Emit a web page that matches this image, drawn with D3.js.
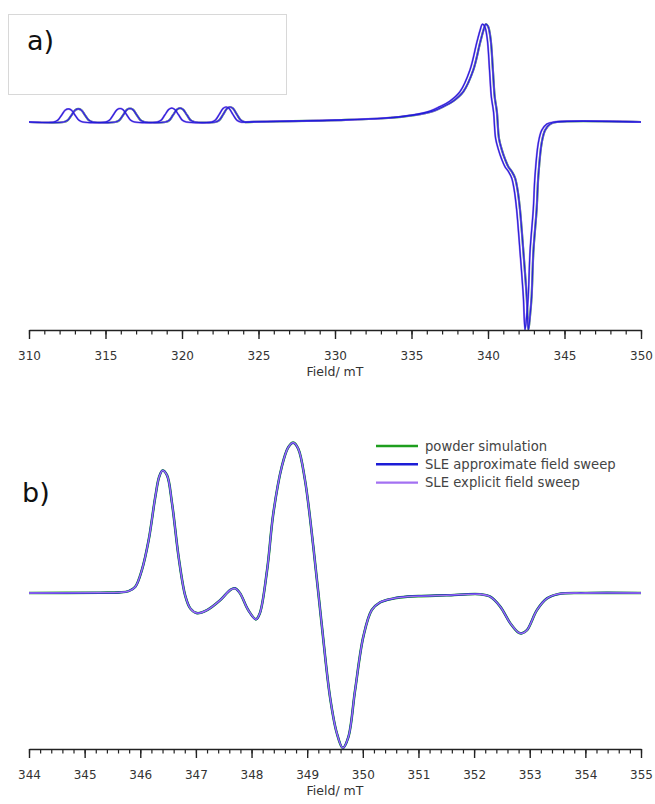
<!DOCTYPE html>
<html>
<head>
<meta charset="utf-8">
<script src="https://cdn.jsdelivr.net/npm/d3@7"></script>
<style>
  html, body { margin: 0; padding: 0; background: #fff; }
  svg { display: block; }
  text { font-family: "DejaVu Sans", "Liberation Sans", Arial, sans-serif; }
</style>
</head>
<body>
<svg id="chart" width="655" height="804"></svg>
<script>
// ---------- Panel a data (field in mT, normalised intensity) ----------
const aFieldLow = [310, 311.62, 311.87, 312.12, 312.37, 312.57, 312.77, 313.02, 313.27, 313.52,
  315.0, 315.25, 315.5, 315.75, 315.95, 316.15, 316.4, 316.65, 316.9,
  318.38, 318.63, 318.88, 319.13, 319.33, 319.53, 319.78, 320.03, 320.28,
  321.93, 322.18, 322.43, 322.68, 322.88, 323.08, 323.33, 323.58, 323.83,
  324.5, 327, 330, 333, 335, 336.2, 336.86, 337.5, 338.17, 338.82, 339.26, 339.48, 339.63, 339.78,
  339.95, 340.1, 340.22, 340.36, 340.5, 340.69, 340.9, 341.11, 341.35, 341.55, 341.72, 341.87,
  342.09, 342.31, 342.42, 342.53, 342.63, 342.75, 342.96, 343.07, 343.29, 343.51, 343.84, 344.3, 350];
const aIntLow = [0, 0, 0.008, 0.032, 0.057, 0.063, 0.057, 0.032, 0.008, 0,
  0, 0.008, 0.033, 0.059, 0.065, 0.059, 0.033, 0.008, 0,
  0, 0.008, 0.034, 0.060, 0.067, 0.060, 0.034, 0.008, 0,
  0, 0.009, 0.036, 0.065, 0.072, 0.065, 0.036, 0.009, 0,
  0.001, 0.004, 0.009, 0.018, 0.033, 0.052, 0.074, 0.100, 0.146, 0.25, 0.38, 0.44, 0.47, 0.46,
  0.40, 0.25, 0.12, 0.05, -0.08, -0.135, -0.18, -0.215, -0.24, -0.27, -0.33, -0.42,
  -0.62, -0.84, -1.0, -0.93, -0.84, -0.62, -0.42, -0.26, -0.10, -0.04, -0.01, 0, 0];

const aFieldHigh = [310, 312.27, 312.52, 312.77, 313.02, 313.22, 313.42, 313.67, 313.92, 314.17,
  315.65, 315.9, 316.15, 316.4, 316.6, 316.8, 317.05, 317.3, 317.55,
  318.92, 319.17, 319.42, 319.67, 319.87, 320.07, 320.32, 320.57, 320.82,
  322.19, 322.44, 322.69, 322.94, 323.14, 323.34, 323.59, 323.84, 324.09,
  324.7, 327.2, 330.2, 333.2, 335.2, 336.4, 337.08, 337.72, 338.39, 339.04, 339.48, 339.7, 339.85, 340.0,
  340.17, 340.32, 340.44, 340.58, 340.72, 340.91, 341.12, 341.33, 341.57, 341.77, 341.94, 342.09,
  342.31, 342.53, 342.64, 342.75, 342.85, 342.97, 343.18, 343.29, 343.51, 343.73, 344.06, 344.5, 350];
const aIntHigh = [0, 0, 0.008, 0.032, 0.057, 0.063, 0.057, 0.032, 0.008, 0,
  0, 0.008, 0.033, 0.059, 0.065, 0.059, 0.033, 0.008, 0,
  0, 0.008, 0.034, 0.060, 0.067, 0.060, 0.034, 0.008, 0,
  0, 0.009, 0.036, 0.065, 0.072, 0.065, 0.036, 0.009, 0,
  0.001, 0.004, 0.009, 0.018, 0.033, 0.052, 0.074, 0.100, 0.146, 0.25, 0.38, 0.44, 0.47, 0.46,
  0.40, 0.25, 0.12, 0.05, -0.08, -0.135, -0.18, -0.215, -0.24, -0.27, -0.33, -0.42,
  -0.62, -0.84, -1.0, -0.93, -0.84, -0.62, -0.42, -0.26, -0.10, -0.04, -0.01, 0, 0];

// ---------- Panel b data ----------
const bField = [344, 345.28, 345.62, 345.79, 345.91, 346.03, 346.15, 346.27, 346.34, 346.40, 346.48, 346.57,
  346.69, 346.81, 346.90, 347.02, 347.20, 347.44, 347.62, 347.70, 347.79, 347.94, 348.08, 348.15,
  348.28, 348.39, 348.54, 348.66, 348.75, 348.84, 348.96, 349.11, 349.26, 349.41, 349.53, 349.64,
  349.74, 349.86, 350.01, 350.16, 350.31, 350.55, 350.67, 351.0, 351.5, 352.11, 352.29, 352.47,
  352.65, 352.80, 352.86, 352.95, 353.13, 353.31, 353.52, 354.0, 355];
const bPowder = [0, 0.002, 0.004, 0.012, 0.04, 0.15, 0.34, 0.62, 0.75, 0.79, 0.76, 0.58,
  0.23, -0.02, -0.10, -0.13, -0.11, -0.045, 0.02, 0.03, 0.0, -0.11, -0.17, -0.13,
  0.15, 0.51, 0.81, 0.94, 0.97, 0.93, 0.73, 0.30, -0.20, -0.67, -0.90, -1.0,
  -0.93, -0.63, -0.28, -0.11, -0.06, -0.035, -0.028, -0.02, -0.015, -0.008, -0.024, -0.088,
  -0.195, -0.256, -0.26, -0.24, -0.11, -0.035, -0.006, 0, 0];
const bApprox = bPowder;   // visually identical to the powder simulation
const bExplicit = bPowder; // visually identical to the powder simulation

const aTicksMajor = [310, 315, 320, 325, 330, 335, 340, 345, 350];
const bTicksMajor = [344, 345, 346, 347, 348, 349, 350, 351, 352, 353, 354, 355];
const legendLabels = ["powder simulation", "SLE approximate field sweep", "SLE explicit field sweep"];
const colors = { powder: "#1e9e1e", approx: "#1c1cd6", explicit: "#a371f2" };

const svg = d3.select("#chart");

function zip(f, v) { return f.map((x, i) => [x, v[i]]); }

function drawAxis(g, x, y0, majors, minorStep) {
  const [d0, d1] = x.domain();
  const minors = d3.range(d0, d1 + minorStep / 2, minorStep).map(v => +v.toFixed(3));
  g.append("g").attr("transform", `translate(0,${y0})`)
    .call(d3.axisBottom(x).tickValues(minors).tickSize(4.5).tickFormat("").tickSizeOuter(0))
    .call(s => s.selectAll("line").attr("stroke", "#222").attr("stroke-width", 1.2))
    .call(s => s.select(".domain").attr("stroke", "#222").attr("stroke-width", 1.4));
  g.append("g").attr("transform", `translate(0,${y0})`)
    .call(d3.axisBottom(x).tickValues(majors).tickSize(9).tickPadding(12).tickFormat(d3.format("d")).tickSizeOuter(0))
    .call(s => s.select(".domain").remove())
    .call(s => s.selectAll("line").attr("stroke", "#222").attr("stroke-width", 1.4))
    .call(s => s.selectAll("text").attr("font-size", 12).attr("fill", "#333")
      .attr("font-family", "'DejaVu Sans', sans-serif"));
  g.append("text").attr("x", 335).attr("y", y0 + 46).attr("text-anchor", "middle")
    .attr("font-size", 12.5).attr("fill", "#333").text("Field/ mT");
}

// ---------- Panel a ----------
const xa = d3.scaleLinear().domain([310, 350]).range([29, 641]);
const ya = d3.scaleLinear().domain([-1, 0.5]).range([330, 18]);
const ga = svg.append("g");
const lineA = d3.line().x(d => xa(d[0])).y(d => ya(d[1])).curve(d3.curveCatmullRom.alpha(0.5));

ga.append("rect").attr("x", 8.5).attr("y", 14.5).attr("width", 278).attr("height", 80)
  .attr("fill", "#fff").attr("stroke", "#d8d8d8").attr("stroke-width", 1);
ga.append("text").attr("x", 27).attr("y", 50).attr("font-size", 27).attr("fill", "#111")
  .attr("font-family", "'Liberation Sans', Arial, sans-serif").text("a)");

const aSeries = [
  { d: zip(aFieldHigh, aIntHigh), c: colors.powder, w: 2.2 },
  { d: zip(aFieldHigh, aIntHigh), c: colors.explicit, w: 2.0 },
  { d: zip(aFieldLow, aIntLow), c: colors.explicit, w: 2.0 },
  { d: zip(aFieldHigh, aIntHigh), c: colors.approx, w: 1.2 },
  { d: zip(aFieldLow, aIntLow), c: colors.approx, w: 1.2 }
];
aSeries.forEach(s => ga.append("path").datum(s.d).attr("d", lineA)
  .attr("fill", "none").attr("stroke", s.c).attr("stroke-width", s.w).attr("stroke-opacity", 0.9));
drawAxis(ga, xa, 330, aTicksMajor, 1);

// ---------- Panel b ----------
const xb = d3.scaleLinear().domain([344, 355]).range([29, 641]);
const yb = d3.scaleLinear().domain([-1, 1]).range([748, 438]);
const gb = svg.append("g");
const lineB = d3.line().x(d => xb(d[0])).y(d => yb(d[1])).curve(d3.curveCatmullRom.alpha(0.5));

const bSeries = [
  { d: zip(bField, bPowder), c: colors.powder, w: 2.6 },
  { d: zip(bField, bApprox), c: colors.approx, w: 2.0 },
  { d: zip(bField, bExplicit), c: colors.explicit, w: 1.3 }
];
bSeries.forEach(s => gb.append("path").datum(s.d).attr("d", lineB)
  .attr("fill", "none").attr("stroke", s.c).attr("stroke-width", s.w));
drawAxis(gb, xb, 749, bTicksMajor, 0.2);

gb.append("text").attr("x", 22).attr("y", 502).attr("font-size", 27).attr("fill", "#111")
  .attr("font-family", "'Liberation Sans', Arial, sans-serif").text("b)");

// legend
const legColors = [colors.powder, colors.approx, colors.explicit];
legendLabels.forEach((t, i) => {
  const yy = 446 + i * 18.3;
  gb.append("line").attr("x1", 376).attr("x2", 418).attr("y1", yy).attr("y2", yy)
    .attr("stroke", legColors[i]).attr("stroke-width", 2.4);
  gb.append("text").attr("x", 425).attr("y", yy + 4.5).attr("font-size", 13.2).attr("fill", "#444")
    .text(t);
});
</script>
</body>
</html>
